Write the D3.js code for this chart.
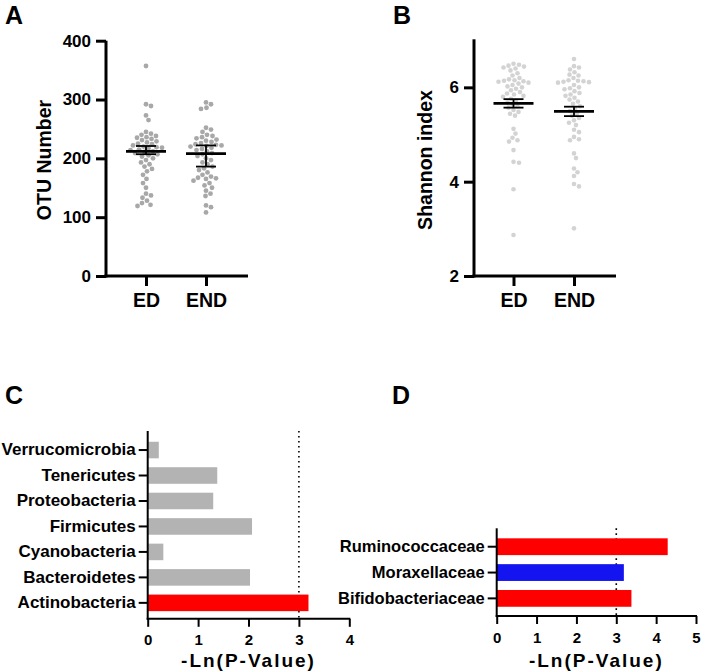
<!DOCTYPE html>
<html><head><meta charset="utf-8">
<script src="https://cdn.jsdelivr.net/npm/d3@7"></script>
<style>
body{margin:0;background:#fff}
svg{display:block}
text{font-family:"Liberation Sans",Arial,Helvetica,sans-serif;font-weight:bold;fill:#000}
</style>
</head><body>
<svg id="chart" width="701" height="672"></svg>
<script>
// ---------------- DATA ----------------
const groups = ["ED", "END"];

// Panel A: OTU number per sample
const otuED = [357, 292, 289, 273, 265, 245, 242, 240, 238, 236, 235, 233, 231, 229, 227, 225, 224, 222, 220, 219, 218, 217, 215, 214, 212, 211, 209, 207, 205, 203, 200, 197, 193, 190, 186, 182, 178, 172, 165, 158, 150, 140, 137, 133, 128, 124, 121, 119];
const otuEND = [295, 292, 286, 284, 252, 249, 245, 240, 238, 236, 234, 232, 230, 228, 226, 224, 223, 222, 221, 220, 218, 216, 214, 212, 209, 207, 204, 200, 197, 193, 190, 186, 183, 180, 176, 172, 169, 167, 166, 165, 162, 158, 154, 150, 145, 140, 136, 120, 117, 108];
const otuCenter = [212, 208];
const otuLow = [207, 186];
const otuHigh = [221, 222];
const otuTicks = [0, 100, 200, 300, 400];

// Panel B: Shannon index per sample
const shanED = [6.5, 6.48, 6.46, 6.44, 6.42, 6.4, 6.36, 6.3, 6.25, 6.2, 6.17, 6.15, 6.14, 6.13, 6.12, 6.1, 6.08, 6.05, 6.02, 6.0, 5.97, 5.94, 5.9, 5.87, 5.85, 5.82, 5.8, 5.76, 5.72, 5.68, 5.64, 5.6, 5.57, 5.52, 5.48, 5.44, 5.4, 5.12, 5.02, 4.93, 4.88, 4.85, 4.67, 4.42, 4.4, 3.84, 2.87];
const shanEND = [6.6, 6.45, 6.42, 6.38, 6.32, 6.27, 6.25, 6.2, 6.15, 6.14, 6.13, 6.12, 6.11, 6.1, 6.05, 6.0, 5.98, 5.96, 5.92, 5.88, 5.85, 5.82, 5.78, 5.74, 5.7, 5.65, 5.6, 5.55, 5.5, 5.45, 5.4, 5.35, 5.3, 5.25, 5.2, 5.1, 5.05, 4.95, 4.9, 4.88, 4.6, 4.5, 4.28, 4.2, 4.12, 3.95, 3.9, 3.01];
const shanCenter = [5.66, 5.49];
const shanLow = [5.57, 5.39];
const shanHigh = [5.75, 5.59];
const shanTicks = [2, 4, 6];

// Panel C: phyla, -Ln(P-value)
const phyla = ["Verrucomicrobia", "Tenericutes", "Proteobacteria", "Firmicutes", "Cyanobacteria", "Bacteroidetes", "Actinobacteria"];
const phylaValues = [0.22, 1.38, 1.30, 2.07, 0.31, 2.03, 3.19];
const phylaClass = ["ns", "ns", "ns", "ns", "ns", "ns", "up"];
const phylaTicks = [0, 1, 2, 3, 4];

// Panel D: families, -Ln(P-value)
const families = ["Ruminococcaceae", "Moraxellaceae", "Bifidobacteriaceae"];
const familyValues = [4.29, 3.19, 3.38];
const familyClass = ["up", "down", "up"];
const familyTicks = [0, 1, 2, 3, 4, 5];

const threshold = 3;
const axisTitleX = "-Ln(P-Value)";

// ---------------- STYLE ----------------
const colorFor = {ns: "#b3b3b3", up: "#ff0000", down: "#1414f0"};
const svg = d3.select("#chart");

// panel letters
[["A", 5, 24], ["B", 393, 24], ["C", 5, 404], ["D", 392, 404]].forEach(([t, x, y]) => {
  svg.append("text").attr("x", x).attr("y", y).attr("font-size", 25).text(t);
});

function swarm(vals, yScale, cx, r) {
  const pts = vals.map(v => ({v, y: yScale(v)})).sort((a, b) => a.y - b.y);
  const placed = [];
  const d = 2 * r + 0.5;
  pts.forEach(p => {
    for (let k = 0; k < 400; k++) {
      const off = (k % 2 ? 1 : -1) * Math.ceil(k / 2) * 0.5;
      const x = cx + off;
      let ok = true;
      for (const q of placed) {
        const dy = q.y - p.y, dx = q.x - x;
        if (dx * dx + dy * dy < d * d) { ok = false; break; }
      }
      if (ok) { p.x = x; break; }
    }
    placed.push(p);
  });
  return placed;
}

function scatterPanel(o) {
  const g = svg.append("g");
  const y = d3.scaleLinear().domain(o.domain).range([o.y0, o.y1]);
  const x = d3.scalePoint().domain(groups).range([o.xa, o.xb]);
  // dots
  o.series.forEach((vals, i) => {
    const pts = swarm(vals, y, x(groups[i]), o.r);
    g.selectAll(null).data(pts).enter().append("circle")
      .attr("cx", d => d.x).attr("cy", d => d.y).attr("r", o.r).attr("fill", o.dot);
  });
  // center line / error bars
  groups.forEach((grp, i) => {
    const cx = x(grp);
    g.append("line").attr("x1", cx).attr("x2", cx).attr("y1", y(o.low[i])).attr("y2", y(o.high[i]))
      .attr("stroke", "#000").attr("stroke-width", 1.8);
    [o.low[i], o.high[i]].forEach(v => {
      g.append("line").attr("x1", cx - 10).attr("x2", cx + 10).attr("y1", y(v)).attr("y2", y(v))
        .attr("stroke", "#000").attr("stroke-width", 1.8);
    });
    g.append("line").attr("x1", cx - 20).attr("x2", cx + 20).attr("y1", y(o.center[i])).attr("y2", y(o.center[i]))
      .attr("stroke", "#000").attr("stroke-width", 2.8);
  });
  // y axis
  const ya = g.append("g").attr("transform", `translate(${o.ax},0)`)
    .call(d3.axisLeft(y).tickValues(o.ticks).tickFormat(d3.format("d")).tickSize(10).tickPadding(5).tickSizeOuter(0));
  ya.select(".domain").remove();
  ya.selectAll("line").attr("stroke-width", 3);
  ya.selectAll("text").attr("font-size", 17).attr("font-family", null);
  g.append("line").attr("x1", o.ax).attr("x2", o.ax).attr("y1", o.y0 + 1.5).attr("y2", o.axTop)
    .attr("stroke", "#000").attr("stroke-width", 3);
  // x axis
  const xa = g.append("g").attr("transform", `translate(0,${o.y0})`)
    .call(d3.axisBottom(x).tickSize(10).tickPadding(7).tickSizeOuter(0));
  xa.select(".domain").remove();
  xa.selectAll("line").attr("stroke-width", 3);
  xa.selectAll("text").attr("font-size", 19.5).attr("font-family", null);
  g.append("line").attr("x1", o.ax - 1.5).attr("x2", o.axRight).attr("y1", o.y0).attr("y2", o.y0)
    .attr("stroke", "#000").attr("stroke-width", 3);
  // y title
  g.append("text").attr("transform", `translate(${o.titleX},${o.titleY}) rotate(-90)`)
    .attr("text-anchor", "middle").attr("dominant-baseline", "central").attr("font-size", 19.5).text(o.title);
}

scatterPanel({
  domain: [0, 400], y0: 276, y1: 40.7, axTop: 40.7, ax: 106, axRight: 248, xa: 146, xb: 206,
  series: [otuED, otuEND], center: otuCenter, low: otuLow, high: otuHigh, ticks: otuTicks,
  r: 2.4, dot: "#a8a8a8", title: "OTU Number", titleX: 44, titleY: 160
});
scatterPanel({
  domain: [2, 7], y0: 276, y1: 40.2, axTop: 39.3, ax: 474, axRight: 616, xa: 513.5, xb: 574,
  series: [shanED, shanEND], center: shanCenter, low: shanLow, high: shanHigh, ticks: shanTicks,
  r: 2.3, dot: "#d3d3d3", title: "Shannon index", titleX: 425, titleY: 160
});

function barPanel(o) {
  const g = svg.append("g");
  const x = d3.scaleLinear().domain([0, o.ticks[o.ticks.length - 1]]).range([o.x0, o.x1]);
  const y = d3.scaleBand().domain(o.cats).range([o.b0, o.b1]).paddingInner(0.35).paddingOuter(0.175);
  // threshold dotted line (behind bars)
  g.append("line").attr("x1", x(threshold)).attr("x2", x(threshold)).attr("y1", o.axTop).attr("y2", o.y0)
    .attr("stroke", "#000").attr("stroke-width", 1.6).attr("stroke-dasharray", "1.6,3.4");
  g.selectAll(null).data(o.cats).enter().append("rect")
    .attr("x", x(0)).attr("y", d => y(d))
    .attr("width", (d, i) => x(o.values[i]) - x(0)).attr("height", y.bandwidth())
    .attr("fill", (d, i) => colorFor[o.cls[i]]);
  // y axis
  const ya = g.append("g").attr("transform", `translate(${o.x0},0)`)
    .call(d3.axisLeft(y).tickSize(9).tickPadding(3).tickSizeOuter(0));
  ya.select(".domain").remove();
  ya.selectAll("line").attr("stroke-width", 2);
  ya.selectAll("text").attr("font-size", o.labelSize).attr("font-family", null);
  g.append("line").attr("x1", o.x0).attr("x2", o.x0).attr("y1", o.y0 + 1).attr("y2", o.axTop)
    .attr("stroke", "#000").attr("stroke-width", 2);
  // x axis
  const xa = g.append("g").attr("transform", `translate(0,${o.y0})`)
    .call(d3.axisBottom(x).tickValues(o.ticks).tickFormat(d3.format("d")).tickSize(8).tickPadding(8).tickSizeOuter(0));
  xa.select(".domain").remove();
  xa.selectAll("line").attr("stroke-width", 2);
  xa.selectAll("text").attr("font-size", 15).attr("font-family", null);
  g.append("line").attr("x1", o.x0 - 1).attr("x2", o.x1 + 1).attr("y1", o.y0).attr("y2", o.y0)
    .attr("stroke", "#000").attr("stroke-width", 2);
  // x title
  g.append("text").attr("x", (o.x0 + o.x1) / 2).attr("y", 667).attr("text-anchor", "middle")
    .attr("font-size", 19).attr("letter-spacing", 2).text(axisTitleX);
}

barPanel({
  cats: phyla, values: phylaValues, cls: phylaClass, ticks: phylaTicks,
  x0: 147.7, x1: 349.3, b0: 437.3, b1: 615.6, y0: 618.8, axTop: 431, labelSize: 17
});
barPanel({
  cats: families, values: familyValues, cls: familyClass, ticks: familyTicks,
  x0: 496.7, x1: 696, b0: 533.8, b1: 611.3, y0: 616, axTop: 528.3, labelSize: 16.5
});
</script>
</body></html>
